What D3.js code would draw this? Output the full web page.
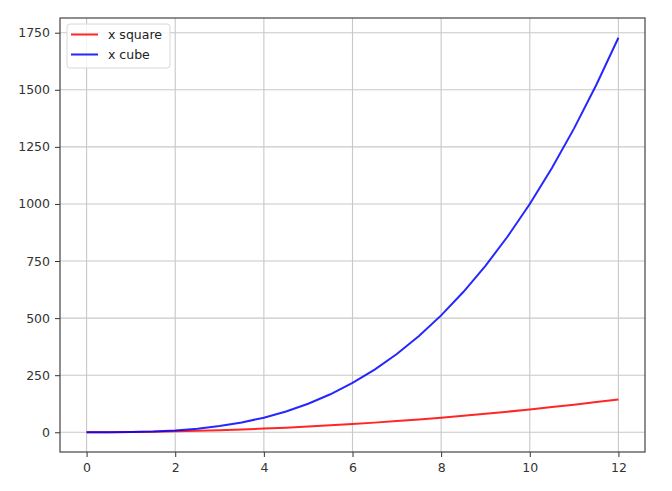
<!DOCTYPE html>
<meta charset="utf-8">
<style>
body { margin: 0; background: #fff; }
text { font-family: "DejaVu Sans", sans-serif; }
</style>
<svg id="chart" width="672" height="491"></svg>
<script src="https://d3js.org/d3.v7.min.js"></script>
<script>

var xValues = [0,0.5,1,1.5,2,2.5,3,3.5,4,4.5,5,5.5,6,6.5,7,7.5,8,8.5,9,9.5,10,10.5,11,11.5,12];
var squareValues = [0,0.25,1,2.25,4,6.25,9,12.25,16,20.25,25,30.25,36,42.25,49,56.25,64,72.25,81,90.25,100,110.25,121,132.25,144];
var cubeValues = [0,0.125,1,3.375,8,15.625,27,42.875,64,91.125,125,166.375,216,274.625,343,421.875,512,614.125,729,857.375,1000,1157.625,1331,1520.875,1728];
var xTicks = [0,2,4,6,8,10,12];
var yTicks = [0,250,500,750,1000,1250,1500,1750];
var seriesNames = ["x square", "x cube"];
var seriesColors = ["#ff0000", "#0000ff"];

var svg = d3.select("#chart");
var plotL = 60, plotR = 645, plotT = 18, plotB = 452;

var x = d3.scaleLinear().domain([-0.6, 12.6]).range([plotL, plotR]);
var y = d3.scaleLinear().domain([-86.4, 1814.4]).range([plotB, plotT]);

// grid
svg.append("g").selectAll("line").data(xTicks).enter().append("line")
  .attr("x1", d => x(d)).attr("x2", d => x(d))
  .attr("y1", plotT).attr("y2", plotB)
  .attr("stroke", "#c8c8c8").attr("stroke-width", 1.1);
svg.append("g").selectAll("line").data(yTicks).enter().append("line")
  .attr("x1", plotL).attr("x2", plotR)
  .attr("y1", d => y(d)).attr("y2", d => y(d))
  .attr("stroke", "#c8c8c8").attr("stroke-width", 1.1);

// axes
var xAxis = svg.append("g")
  .attr("transform", "translate(0," + plotB + ")")
  .call(d3.axisBottom(x).tickValues(xTicks).tickFormat(d3.format("d")).tickSize(5).tickPadding(6).tickSizeOuter(0));
var yAxis = svg.append("g")
  .attr("transform", "translate(" + plotL + ",0)")
  .call(d3.axisLeft(y).tickValues(yTicks).tickFormat(d3.format("d")).tickSize(5).tickPadding(5).tickSizeOuter(0));
[xAxis, yAxis].forEach(function(a) {
  a.select(".domain").remove();
  a.selectAll("line").attr("stroke", "#333");
  a.selectAll("text").attr("fill", "#333").style("font-size", "12.5px")
    .style("font-family", "DejaVu Sans, sans-serif");
});

// frame
svg.append("rect")
  .attr("x", plotL).attr("y", plotT)
  .attr("width", plotR - plotL).attr("height", plotB - plotT)
  .attr("fill", "none").attr("stroke", "#444").attr("stroke-width", 1.2);

// lines
var series = [squareValues, cubeValues];
var line = d3.line().x((d, i) => x(xValues[i])).y(d => y(d));
series.forEach(function(s, k) {
  svg.append("path")
    .datum(s)
    .attr("d", line)
    .attr("fill", "none")
    .attr("stroke", seriesColors[k])
    .attr("stroke-width", 2)
    .attr("opacity", 0.85);
});

// legend
var lg = svg.append("g");
lg.append("rect")
  .attr("x", 67).attr("y", 24).attr("width", 103).attr("height", 44)
  .attr("rx", 3).attr("fill", "#fff").attr("fill-opacity", 0.8)
  .attr("stroke", "#d8d8d8").attr("stroke-width", 1);
seriesNames.forEach(function(n, k) {
  var yy = 34.5 + k * 20;
  lg.append("line")
    .attr("x1", 71).attr("x2", 98).attr("y1", yy).attr("y2", yy)
    .attr("stroke", seriesColors[k]).attr("stroke-width", 2).attr("opacity", 0.85);
  lg.append("text")
    .attr("x", 108).attr("y", yy + 4.5)
    .attr("fill", "#222")
    .style("font-size", "12.5px")
    .text(n);
});
</script>
